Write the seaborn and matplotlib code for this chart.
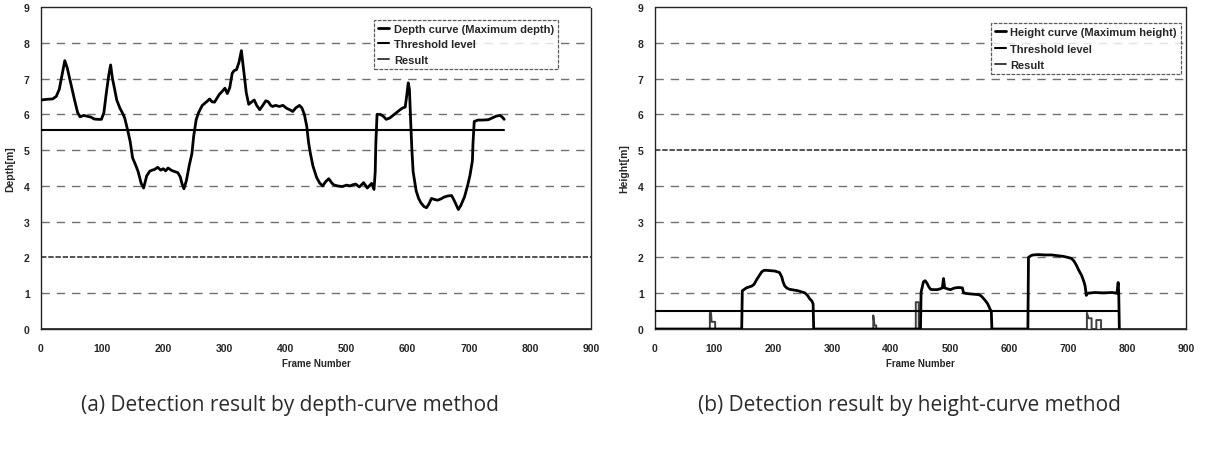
import numpy as np
import pandas as pd
import seaborn as sns
import matplotlib
matplotlib.use("Agg")
import matplotlib.pyplot as plt

# ---- depth-curve method (a) ----
depth_frame = [0, 10, 19, 25, 30, 35, 39, 43, 47, 51, 55, 60, 64, 70, 75, 82, 87, 93, 99, 103,
               107, 111, 114, 117, 120, 124, 129, 133, 137, 142, 146, 150, 155, 159, 164, 168, 173, 178, 182, 186,
               191, 196, 200, 204, 208, 214, 219, 224, 228, 231, 234, 238, 243, 247, 250, 254, 258, 264, 271, 276,
               280, 284, 288, 292, 297, 301, 305, 309, 313, 316, 320, 324, 328, 332, 336, 340, 345, 349, 353, 358,
               363, 368, 372, 376, 379, 384, 390, 396, 402, 408, 412, 417, 423, 427, 431, 435, 438, 441, 445, 451,
               456, 461, 466, 471, 476, 479, 485, 493, 500, 506, 510, 515, 521, 528, 534, 541, 545, 547, 548, 550,
               555, 560, 565, 571, 576, 582, 587, 592, 596, 598, 601, 603, 605, 607, 609, 614, 618, 622, 627, 631,
               635, 639, 644, 649, 655, 660, 666, 672, 676, 680, 683, 687, 693, 698, 702, 706, 707, 709, 715, 723,
               732, 740, 745, 751, 755, 758]
depth_value = [6.40, 6.42, 6.43, 6.50, 6.70, 7.15, 7.50, 7.30, 7.00, 6.70, 6.40, 6.05, 5.93, 5.97, 5.95, 5.92, 5.87, 5.86, 5.86, 6.05,
               6.60, 7.10, 7.38, 7.00, 6.75, 6.40, 6.18, 6.05, 5.90, 5.55, 5.24, 4.78, 4.58, 4.40, 4.07, 3.94, 4.28, 4.41, 4.44, 4.46,
               4.52, 4.44, 4.48, 4.42, 4.50, 4.43, 4.40, 4.37, 4.25, 4.05, 3.92, 4.15, 4.60, 4.90, 5.40, 5.85, 6.05, 6.25, 6.35, 6.43,
               6.35, 6.34, 6.45, 6.56, 6.65, 6.73, 6.58, 6.75, 7.15, 7.22, 7.25, 7.45, 7.78, 7.20, 6.60, 6.28, 6.35, 6.40, 6.25, 6.13,
               6.25, 6.38, 6.35, 6.25, 6.22, 6.25, 6.22, 6.25, 6.17, 6.12, 6.08, 6.18, 6.25, 6.18, 6.00, 5.66, 5.20, 4.90, 4.56, 4.24,
               4.08, 4.00, 4.12, 4.20, 4.08, 4.03, 4.00, 3.98, 4.02, 4.00, 4.03, 4.05, 3.97, 4.09, 3.94, 4.07, 3.90, 4.40, 5.20, 6.00,
               6.00, 5.95, 5.86, 5.90, 5.97, 6.05, 6.12, 6.18, 6.20, 6.45, 6.88, 6.70, 5.80, 5.00, 4.40, 3.86, 3.65, 3.52, 3.42, 3.39,
               3.50, 3.65, 3.62, 3.60, 3.64, 3.69, 3.72, 3.73, 3.60, 3.45, 3.34, 3.45, 3.69, 4.00, 4.29, 4.70, 5.20, 5.80, 5.84, 5.84,
               5.85, 5.91, 5.95, 5.97, 5.92, 5.86]
depth_thr_frame = [0, 757]
depth_thr_value = [5.57, 5.57]
depth_res_frame = [0, 900]
depth_res_value = [0, 0]

# ---- height-curve method (b) ----
height_frame = [0, 147, 148, 155, 164, 168, 172, 177, 181, 185, 189, 196, 203, 211, 215, 217, 220, 224, 228, 235,
                242, 248, 254, 258, 262, 266, 268, 269, 450, 451, 455, 458, 461, 464, 467, 472, 478, 483, 487, 489,
                491, 496, 501, 505, 509, 515, 521, 523, 529, 535, 542, 549, 553, 557, 561, 564, 568, 570, 571, 632,
                633, 637, 641, 650, 660, 672, 682, 692, 700, 706, 710, 714, 718, 723, 727, 729, 731, 733, 745, 760,
                775, 783, 785, 786, 787]
height_value = [0, 0, 1.07, 1.15, 1.20, 1.25, 1.37, 1.50, 1.60, 1.64, 1.64, 1.63, 1.62, 1.58, 1.45, 1.32, 1.20, 1.14, 1.11, 1.09,
                1.07, 1.04, 1.01, 0.95, 0.85, 0.78, 0.70, 0, 0, 1.03, 1.32, 1.35, 1.28, 1.18, 1.11, 1.10, 1.10, 1.12, 1.15, 1.41,
                1.15, 1.12, 1.10, 1.13, 1.15, 1.16, 1.15, 1.01, 0.99, 0.98, 0.97, 0.96, 0.92, 0.85, 0.77, 0.70, 0.55, 0.50, 0, 0,
                2.00, 2.05, 2.07, 2.08, 2.07, 2.07, 2.05, 2.03, 2.00, 1.97, 1.90, 1.79, 1.65, 1.50, 1.32, 1.20, 0.94, 1.00, 1.02, 1.01,
                1.02, 1.00, 1.30, 1.00, 0]
height_thr_frame = [0, 787]
height_thr_value = [0.5, 0.5]
height_res_frame = [0, 93, 93, 95, 96, 102, 102, 370, 370, 372, 375, 375, 442, 442, 447, 447,
                    732, 732, 735, 740, 740, 748, 748, 756, 756, 900]
height_res_value = [0, 0, 0.45, 0.45, 0.2, 0.2, 0, 0, 0.38, 0.1, 0.1, 0, 0, 0.75, 0.75, 0,
                    0, 0.45, 0.3, 0.3, 0, 0, 0.25, 0.25, 0, 0]

sns.set_theme(style="white")
plt.rcParams['font.family'] = ['Liberation Sans', 'DejaVu Sans']

fig = plt.figure(figsize=(12.08, 4.52), dpi=100)
ax1 = fig.add_axes([0.0339, 0.2699, 0.4553, 0.7124])
ax2 = fig.add_axes([0.5422, 0.2699, 0.4396, 0.7124])

panels = [
    (ax1, depth_frame, depth_value, depth_thr_frame, depth_thr_value, depth_res_frame, depth_res_value,
     "Depth curve (Maximum depth)", "Depth[m]", (0.94, 0.96), 2, 0.5),
    (ax2, height_frame, height_value, height_thr_frame, height_thr_value, height_res_frame, height_res_value,
     "Height curve (Maximum height)", "Height[m]", (0.99, 0.95), 5, 0.6),
]

for ax, cx, cy, tx, ty, rx, ry, curve_name, ylab, anchor, heavy, lsp in panels:
    # scanned-looking dashed grid, one row printed darker in each panel
    for g in range(1, 9):
        if g == heavy:
            ax.axhline(g, color="0.15", lw=1.3, ls=(0, (3, 1)), alpha=0.85, zorder=1)
        else:
            ax.axhline(g, color="0.25", lw=1.0, ls=(0, (6, 5)), alpha=0.75, zorder=1)
    sns.lineplot(x=rx, y=ry, ax=ax, color="0.25", lw=1.4, sort=False, estimator=None,
                 label="Result", zorder=2)
    sns.lineplot(x=tx, y=ty, ax=ax, color="black", lw=1.5, sort=False, estimator=None,
                 label="Threshold level", zorder=3)
    sns.lineplot(x=cx, y=cy, ax=ax, color="black", lw=2.0, sort=False, estimator=None,
                 label=curve_name, zorder=4)

    ax.set_xlim(0, 900)
    ax.set_ylim(0, 9)
    ax.set_xticks(range(0, 901, 100))
    ax.set_yticks(range(0, 10))
    ax.tick_params(axis="both", labelsize=7.5, length=2, direction="in", pad=8)
    ax.tick_params(axis="x", pad=10)
    for lbl in ax.get_xticklabels() + ax.get_yticklabels():
        lbl.set_fontweight("bold")
    ax.set_xlabel("Frame Number", fontsize=7, fontweight="bold", labelpad=4)
    ax.set_ylabel(ylab, fontsize=7.5, fontweight="bold", labelpad=6)
    for sp in ax.spines.values():
        sp.set_color("0.15")
        sp.set_linewidth(1.0)
        sp.set_linestyle((0, (3, 1)))

    h, l = ax.get_legend_handles_labels()
    leg = ax.legend(h[::-1], l[::-1], loc="upper right", bbox_to_anchor=anchor,
                    prop={"weight": "bold", "size": 8}, frameon=True, fancybox=False,
                    handlelength=1.0, handletextpad=0.4, labelspacing=lsp, borderpad=0.35,
                    borderaxespad=0)
    leg.get_frame().set_edgecolor("0.2")
    leg.get_frame().set_linestyle((0, (3, 1)))
    leg.get_frame().set_linewidth(0.9)

fig.text(0.240, 0.102, "(a) Detection result by depth-curve method", ha="center", va="center",
         fontsize=15, color="#2b2b2b", family=["Open Sans", "DejaVu Sans"])
fig.text(0.753, 0.102, "(b) Detection result by height-curve method", ha="center", va="center",
         fontsize=15, color="#2b2b2b", family=["Open Sans", "DejaVu Sans"])

fig.savefig("out.png", dpi=100)
